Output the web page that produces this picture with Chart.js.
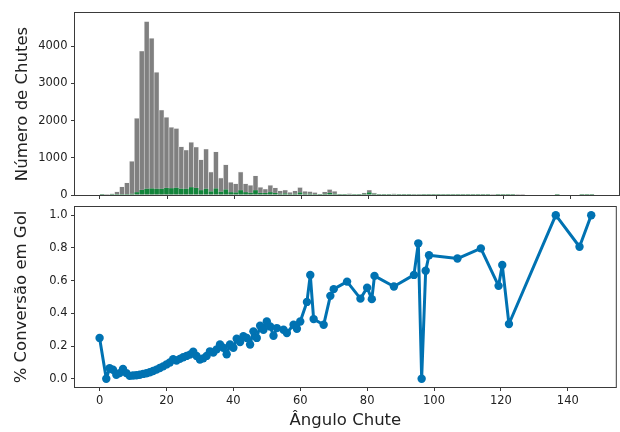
<!DOCTYPE html>
<html><head><meta charset="utf-8">
<script src="https://cdn.jsdelivr.net/npm/chart.js@4.4.1/dist/chart.umd.min.js"></script>
<style>
html,body{margin:0;padding:0;background:#fff;}
#wrap{position:relative;width:620px;height:432px;overflow:hidden;background:#fff;}
#c1{position:absolute;left:0;top:0;}
#c2{position:absolute;left:0;top:200px;}
</style></head><body>
<div id="wrap"><canvas id="c1" width="620" height="200"></canvas><canvas id="c2" width="620" height="232"></canvas></div>
<script>
// ---- data ----
const binStart = 0;
const binWidth = 1.47;
const shotCounts = [
  5,10,30,90,220,330,910,2060,3870,4660,
  4210,3300,2285,2090,1820,1790,1300,1210,1420,1290,
  950,1235,620,1160,460,815,345,305,620,305,
  260,515,210,160,265,195,115,135,75,115,
  205,100,95,70,25,85,150,100,25,10,
  35,12,8,60,135,55,8,5,5,30,
  5,4,4,25,20,8,10,3,3,2,
  2,2,1,8,2,1,1,2,1,1,
  3,8,5,3,1,1,0,0,0,0,
  0,0,1,0,0,0,0,1,1,1
];
const goalCounts = [
  1,0,2,5,10,18,40,80,140,170,
  180,170,175,190,185,200,170,175,210,190,
  135,175,100,180,95,150,80,75,130,80,
  65,135,60,55,80,60,40,45,25,40,
  70,35,35,25,10,30,60,40,10,3,
  15,5,3,30,75,30,4,3,3,15,
  3,2,2,15,15,5,7,2,2,1,
  1,1,1,6,1,1,1,2,1,0,
  2,5,2,1,0,0,0,0,0,0,
  0,0,1,0,0,0,0,1,1,1
];
const angles = [0,2,3,4,5,6,7,8,9,10,11,12,13,14,15,16,17,18,19,20,
  21,22,23,24,25,26,27,28,29,30,31,32,33,34,35,36,37,38,39,40,
  41,42,43,44,45,46,47,48,49,50,51,52,53,55,56,58,59,60,62,63,
  64,67,69,70,74,78,80,81.4,82.2,88,94,95.3,96.3,97.5,98.5,107,114,119.3,120.4,122.4,
  136.4,143.5,147];
const conversion = [0.25,0.0,0.065,0.055,0.025,0.035,0.06,0.035,0.018,0.02,0.022,0.025,0.03,0.034,0.04,0.048,0.056,0.066,0.076,0.088,
  0.1,0.12,0.112,0.122,0.132,0.14,0.148,0.165,0.14,0.118,0.125,0.14,0.168,0.16,0.18,0.21,0.19,0.15,0.21,0.19,
  0.245,0.225,0.26,0.25,0.21,0.29,0.25,0.325,0.3,0.35,0.32,0.263,0.31,0.30,0.28,0.33,0.306,0.35,0.47,0.635,
  0.365,0.33,0.507,0.548,0.594,0.49,0.557,0.487,0.629,0.564,0.635,0.828,0.0,0.66,0.755,0.735,0.797,0.568,0.696,0.335,
  1.0,0.807,1.0];
const xTicks = [0,20,40,60,80,100,120,140];
const histTicks = [0,1000,2000,3000,4000];
const convTicks = [0,0.2,0.4,0.6,0.8,1.0];
const xMin = -7.35, xMax = 154.35;

// ---- setup ----
Chart.defaults.font.family = "'DejaVu Sans', sans-serif";
Chart.defaults.color = '#222';
const spineColor = '#3a3a3a';
const frame = {id:'frame', afterDraw(chart){
  const {ctx, chartArea:a} = chart;
  ctx.save(); ctx.strokeStyle = spineColor; ctx.lineWidth = 1;
  ctx.strokeRect(a.left-0.5, a.top-0.5, a.right-a.left+1, a.bottom-a.top+1);
  ctx.restore();
}};
const setTicks = arr => s => { s.ticks = arr.map(v => ({value:v})); };
const fixY = w => s => { s.width = w; s.paddingTop = 0; s.paddingBottom = 0; };
const fixX = h => s => { s.height = h; s.paddingLeft = 0; s.paddingRight = 0; };
const tickGrid = {display:true, drawOnChartArea:false, drawTicks:true, tickLength:4, color:spineColor, lineWidth:1, offset:false};
const tickFont = {size:11.5};
const labelFont = {size:16.5};

const hist = (counts) => counts.map((c,i) => ({x: binStart + (i+0.5)*binWidth, y: c > 0 ? c : null}));

new Chart(document.getElementById('c1'), {
  type:'bar',
  data:{datasets:[
    {data: hist(goalCounts), backgroundColor:'rgb(18,132,58)', borderColor:'rgba(255,255,255,0.35)', borderWidth:0.5, grouped:false, order:0, barPercentage:1, categoryPercentage:1},
    {data: hist(shotCounts), backgroundColor:'#808080', borderColor:'rgba(235,235,235,0.9)', borderWidth:0.6, grouped:false, order:1, barPercentage:1, categoryPercentage:1}
  ]},
  options:{
    responsive:false, animation:false, devicePixelRatio:1,
    layout:{padding:{top:13,left:0,right:1,bottom:0}},
    plugins:{legend:{display:false}, tooltip:{enabled:false}},
    scales:{
      x:{type:'linear', min:xMin, max:xMax, offset:false, afterBuildTicks:setTicks(xTicks),
         afterFit:fixX(5), ticks:{display:false}, grid:tickGrid, border:{display:false}},
      y:{type:'linear', min:0, max:4890, afterBuildTicks:setTicks(histTicks), afterFit:fixY(75),
         ticks:{font:tickFont, padding:3.5, color:'#222', callback:v=>String(v)}, grid:tickGrid, border:{display:false},
         title:{display:true, text:'Número de Chutes', font:labelFont, color:'#222', padding:{top:13,bottom:0}}}
    }
  },
  plugins:[frame]
});

new Chart(document.getElementById('c2'), {
  type:'line',
  data:{datasets:[{data: angles.map((a,i)=>({x:a, y:conversion[i]})), borderColor:'#0072b2', backgroundColor:'#0072b2',
    borderWidth:3, borderJoinStyle:'round', borderCapStyle:'round', pointRadius:4.2, pointBorderWidth:0, pointBackgroundColor:'#0072b2', tension:0, fill:false}]},
  options:{
    responsive:false, animation:false, devicePixelRatio:1,
    layout:{padding:{top:7,left:0,right:1,bottom:0}},
    plugins:{legend:{display:false}, tooltip:{enabled:false}},
    scales:{
      x:{type:'linear', min:xMin, max:xMax, afterBuildTicks:setTicks(xTicks), afterFit:fixX(45),
         ticks:{font:tickFont, padding:3.5, color:'#222', maxRotation:0}, grid:tickGrid, border:{display:false},
         title:{display:true, text:'Ângulo Chute', font:labelFont, color:'#222', padding:{top:0,bottom:1}}},
      y:{type:'linear', min:-0.05, max:1.05, afterBuildTicks:setTicks(convTicks), afterFit:fixY(75),
         ticks:{font:tickFont, padding:3.5, color:'#222', callback:v=>Number(v).toFixed(1)}, grid:tickGrid, border:{display:false},
         title:{display:true, text:'% Conversão em Gol', font:labelFont, color:'#222', padding:{top:12,bottom:0}}}
    }
  },
  plugins:[frame]
});
</script>
</body></html>
